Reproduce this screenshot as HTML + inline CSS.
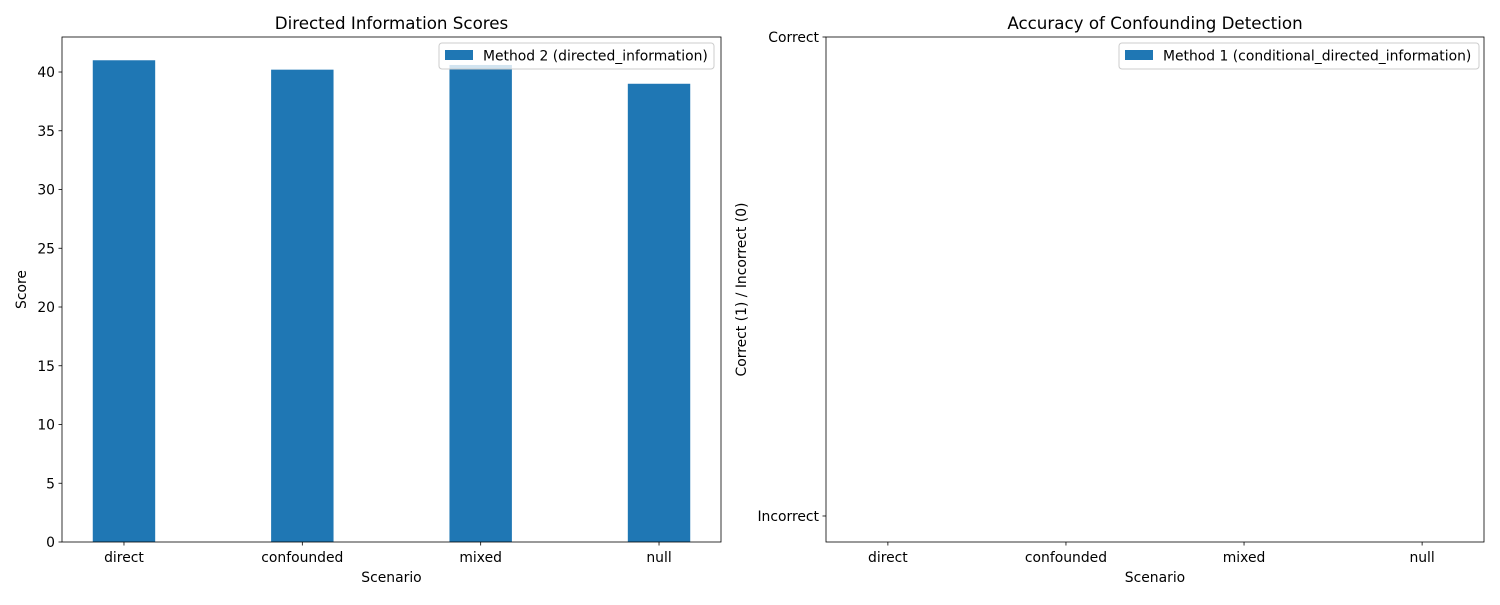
<!DOCTYPE html>
<html><head><meta charset="utf-8"><style>
body{margin:0;background:#fff;font-family:"Liberation Sans","DejaVu Sans",sans-serif;}
svg text{font-family:"DejaVu Sans","Liberation Sans",sans-serif;fill:#000;}
</style></head><body>
<svg id="c" width="1500" height="600" xmlns="http://www.w3.org/2000/svg"></svg>
<script>
const categories=["direct","confounded","mixed","null"];
const method2Scores=[41.0,40.2,40.6,39.0];
const method1Correct=[0,0,0,0];
const leftTicks=[0,5,10,15,20,25,30,35,40];
const rightTicks=[0,1];
const rightTickLabels=["Incorrect","Correct"];
const NS="http://www.w3.org/2000/svg";
const svg=document.getElementById('c');
const FS=13.9;
function el(t,a,p){const e=document.createElementNS(NS,t);for(const k in a)e.setAttribute(k,a[k]);(p||svg).appendChild(e);return e;}
function txt(s,a,p){const e=el('text',a,p);e.textContent=s;return e;}
const blue="#1f77b4";
function panel(o){
 const g=el('g',{});
 
 
 const xs=i=>o.x0+(i-o.xmin)/(o.xmax-o.xmin)*(o.x1-o.x0);
 const ys=v=>o.y1-(v-o.ymin)/(o.ymax-o.ymin)*(o.y1-o.y0);
 const bw=0.35*(o.x1-o.x0)/(o.xmax-o.xmin);
 o.values.forEach((v,i)=>{
  const y=ys(Math.max(v,0)),h=Math.abs(ys(v)-ys(0));
  const r=el('rect',{x:xs(i)-bw/2,y:y,width:bw,height:h,fill:blue},g);
  
  
 });
 categories.forEach((c,i)=>{
  el('line',{x1:xs(i),x2:xs(i),y1:o.y1,y2:o.y1+3.5,stroke:'#000','stroke-width':0.8},g);
  const t=txt(c,{x:xs(i),y:o.y1+20,'font-size':FS,'text-anchor':'middle'},g);
  
  
 });
 o.ticks.forEach((v,i)=>{
  el('line',{x1:o.x0-3.5,x2:o.x0,y1:ys(v),y2:ys(v),stroke:'#000','stroke-width':0.8},g);
  const t=txt(o.labels?o.labels[i]:String(v),{x:o.x0-7,y:ys(v)+5,'font-size':FS,'text-anchor':'end'},g);
  
  
 });
 const f=el('rect',{x:o.x0,y:o.y0,width:o.x1-o.x0,height:o.y1-o.y0,fill:'none',stroke:'#000','stroke-width':0.8},g);
 
 
 const ti=txt(o.title,{x:(o.x0+o.x1)/2,y:o.y0-8,'font-size':16.7,'text-anchor':'middle'},g);
 
 
 const xl=txt('Scenario',{x:(o.x0+o.x1)/2,y:582,'font-size':FS,'text-anchor':'middle'},g);
 
 
 const cy=(o.y0+o.y1)/2;
 const yl=txt(o.ylabel,{x:o.ylx,y:cy,'font-size':FS,'text-anchor':'middle',transform:`rotate(-90 ${o.ylx} ${cy})`},g);
 
 
 const lg=el('g',{},g);
 
 
 el('rect',{x:o.lx,y:43,width:o.lw,height:26,rx:3,fill:'#fff','fill-opacity':0.8,stroke:'#ccc'},lg);
 el('rect',{x:o.lx+6,y:50,width:28,height:10,fill:blue},lg);
 txt(o.legend,{x:o.lx+44,y:60.5,'font-size':FS},lg);
}
panel({name:'left-panel',x0:62,x1:721,y0:37,y1:542,xmin:-0.3475,xmax:3.3475,ymin:0,ymax:42.98,values:method2Scores,ticks:leftTicks,title:'Directed Information Scores',ylabel:'Score',ylx:26,lx:439,lw:275,legend:'Method 2 (directed_information)'});
panel({name:'right-panel',x0:826,x1:1484,y0:37,y1:542,xmin:-0.3475,xmax:3.3475,ymin:-0.0543,ymax:1,values:method1Correct,ticks:rightTicks,labels:rightTickLabels,title:'Accuracy of Confounding Detection',ylabel:'Correct (1) / Incorrect (0)',ylx:746,lx:1119,lw:360,legend:'Method 1 (conditional_directed_information)'});
</script>
</body></html>
